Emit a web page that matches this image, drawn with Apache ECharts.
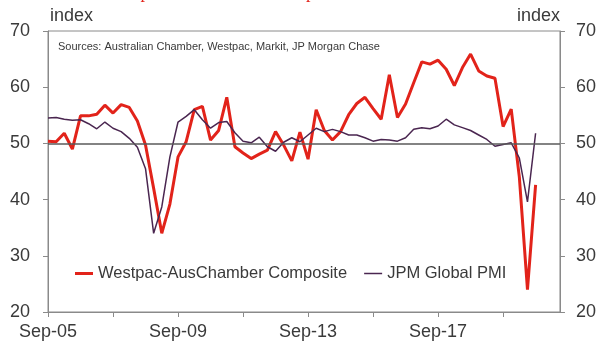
<!DOCTYPE html>
<html>
<head>
<meta charset="utf-8">
<script src="https://cdn.jsdelivr.net/npm/echarts@6/dist/echarts.min.js"></script>
<style>html,body{margin:0;padding:0;background:#fff;}#c{width:599px;height:343px;}</style>
</head>
<body>
<div id="c"></div>
<script>
const categories = [
 'Sep-05','Dec-05','Mar-06','Jun-06','Sep-06','Dec-06','Mar-07','Jun-07',
 'Sep-07','Dec-07','Mar-08','Jun-08','Sep-08','Dec-08','Mar-09','Jun-09',
 'Sep-09','Dec-09','Mar-10','Jun-10','Sep-10','Dec-10','Mar-11','Jun-11',
 'Sep-11','Dec-11','Mar-12','Jun-12','Sep-12','Dec-12','Mar-13','Jun-13',
 'Sep-13','Dec-13','Mar-14','Jun-14','Sep-14','Dec-14','Mar-15','Jun-15',
 'Sep-15','Dec-15','Mar-16','Jun-16','Sep-16','Dec-16','Mar-17','Jun-17',
 'Sep-17','Dec-17','Mar-18','Jun-18','Sep-18','Dec-18','Mar-19','Jun-19',
 'Sep-19','Dec-19','Mar-20','Jun-20','Sep-20','Dec-20','Mar-21','Jun-21'
];
const westpacComposite = [
 50.4,50.3,51.8,49.0,54.9,54.9,55.2,56.8,
 55.4,56.9,56.4,54.0,49.7,42.0,34.0,39.2,
 47.6,50.3,56.0,56.6,50.6,52.3,58.2,49.4,
 48.3,47.3,48.1,48.8,52.1,49.7,46.9,52.0,
 47.2,56.0,52.3,50.6,52.1,55.1,57.1,58.2,
 56.2,54.3,62.2,54.6,57.0,60.8,64.5,64.1,
 64.8,63.2,60.3,63.5,65.9,62.9,62.0,61.6,
 53.0,56.1,44.0,24.0,42.6
];
const jpmGlobalPMI = [
 54.5,54.6,54.3,54.1,54.2,53.5,52.6,53.8,
 52.7,52.1,50.9,49.3,45.5,34.0,38.7,47.6,
 53.8,54.8,56.0,54.2,52.7,53.7,53.9,51.9,
 50.4,50.1,51.1,49.4,48.6,50.2,51.0,50.3,
 51.5,52.7,52.1,52.5,52.1,51.5,51.5,51.0,
 50.4,50.7,50.6,50.4,51.0,52.5,52.8,52.6,
 53.1,54.3,53.3,52.8,52.3,51.5,50.7,49.5,
 49.8,50.1,47.4,39.6,51.8
];
const yTicks = { min: 20, max: 70, interval: 10 };
const seriesNames = ['Westpac-AusChamber Composite', 'JPM Global PMI'];
const sourceNote = 'Sources: Australian Chamber, Westpac, Markit, JP Morgan Chase';
const axisTitle = 'index';
const chartTitle = 'Westpac-AusChamber Composite and Global PMI';

const RED = '#E2231A', PURPLE = '#4A2650', AXIS = '#8a8a8a', TXT = '#3a3a3a';
const FONT = 'Liberation Sans, Arial, sans-serif';

const chart = echarts.init(document.getElementById('c'), null, {renderer: 'canvas'});
const yAxisBase = (pos, margin) => ({
  type: 'value', position: pos, min: yTicks.min, max: yTicks.max, interval: yTicks.interval,
  splitLine: {show: false},
  axisLine: {show: true, lineStyle: {color: AXIS, width: 1}},
  axisTick: {show: true, inside: false, length: 5, lineStyle: {color: AXIS}},
  axisLabel: {color: TXT, fontSize: 18, fontFamily: FONT, margin: margin}
});
chart.setOption({
  animation: false,
  backgroundColor: '#fff',
  grid: {left: 48, right: 38, top: 31, bottom: 31, show: true, borderColor: AXIS, borderWidth: 1, containLabel: false},
  legend: {
    left: 70, top: 260, itemGap: 17, itemWidth: 18, itemHeight: 12,
    textStyle: {color: TXT, fontSize: 16.5, fontFamily: FONT},
    data: [
      {name: seriesNames[0], icon: 'path://M0,0L18,0L18,3L0,3Z', itemStyle: {color: RED}},
      {name: seriesNames[1], icon: 'path://M0,0L18,0L18,1.5L0,1.5Z', itemStyle: {color: PURPLE}}
    ]
  },
  xAxis: {
    type: 'category', data: categories, boundaryGap: false,
    axisLine: {show: true, lineStyle: {color: AXIS, width: 1}},
    axisTick: {show: true, interval: 7, length: 5, lineStyle: {color: AXIS}},
    axisLabel: {interval: 15, color: TXT, fontSize: 18, fontFamily: FONT, margin: 11}
  },
  yAxis: [yAxisBase('left', 18), yAxisBase('right', 16)],
  graphic: [
    {type: 'text', left: 50, top: 7, style: {text: axisTitle, fill: TXT, font: '18px ' + FONT}},
    {type: 'text', right: 39, top: 7, style: {text: axisTitle, fill: TXT, font: '18px ' + FONT}},
    {type: 'text', left: 58, top: 41, style: {text: sourceNote, fill: TXT, font: '11px ' + FONT}},
    {type: 'text', left: 105, top: -16, style: {text: chartTitle, fill: RED, font: '18px Liberation Serif, serif'}}
  ],
  series: [
    {
      name: seriesNames[0], type: 'line', yAxisIndex: 0, data: westpacComposite,
      showSymbol: false, symbol: 'none', z: 3,
      lineStyle: {color: RED, width: 3}, itemStyle: {color: RED},
      markLine: {
        silent: true, symbol: 'none', label: {show: false},
        lineStyle: {color: '#5a5a5a', width: 1.5, type: 'solid'},
        data: [{yAxis: 50}]
      }
    },
    {
      name: seriesNames[1], type: 'line', yAxisIndex: 1, data: jpmGlobalPMI,
      showSymbol: false, symbol: 'none', z: 4,
      lineStyle: {color: PURPLE, width: 1.5}, itemStyle: {color: PURPLE}
    }
  ]
});
</script>
</body>
</html>
